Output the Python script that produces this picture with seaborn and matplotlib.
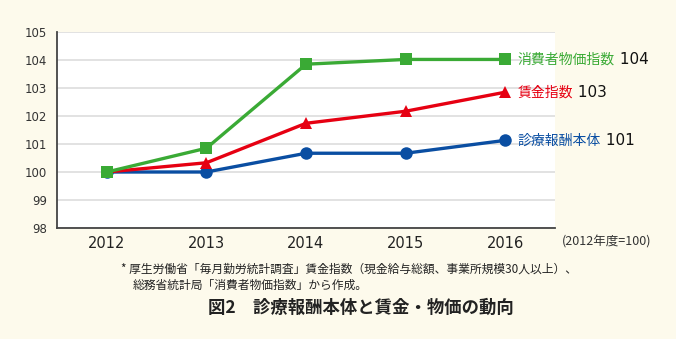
import numpy as np
import pandas as pd
import matplotlib
matplotlib.use("Agg")
import matplotlib.pyplot as plt
import seaborn as sns

years = ["2012", "2013", "2014", "2015", "2016"]
series_names = ["消費者物価指数", "賃金指数", "診療報酬本体"]
cpi = [100.0, 100.85, 103.85, 104.02, 104.02]
wage = [100.0, 100.33, 101.74, 102.17, 102.85]
fee = [100.0, 100.0, 100.67, 100.67, 101.13]
end_labels = ["104", "103", "101"]
yticks = [98, 99, 100, 101, 102, 103, 104, 105]

colors = {"消費者物価指数": "#3aaa35", "賃金指数": "#e60012", "診療報酬本体": "#0a4ea2"}
markers = {"消費者物価指数": "s", "賃金指数": "^", "診療報酬本体": "o"}

rows = []
for name, vals in zip(series_names, [cpi, wage, fee]):
    for i, (y, v) in enumerate(zip(years, vals)):
        rows.append({"pos": i, "year": y, "value": v, "series": name})
df = pd.DataFrame(rows)

sns.set_style("white")
plt.rcParams["font.family"] = ["Noto Sans CJK JP", "DejaVu Sans"]

bg = "#fdfaec"
fig = plt.figure(figsize=(6.76, 3.39), dpi=100, facecolor=bg)
ax = fig.add_axes([57/676, 1-228/339, (555-57)/676, (228-32)/339])
ax.set_facecolor("white")

# draw in order blue, red, green so green on top
order = ["診療報酬本体", "賃金指数", "消費者物価指数"]
sns.lineplot(data=df, x="pos", y="value", hue="series", style="series",
             hue_order=order, style_order=order,
             palette=colors, markers=markers, dashes=False,
             linewidth=2.4, markersize=9, markeredgewidth=0,
             legend=False, ax=ax)

ax.set_xlim(-0.5, 4.5)
ax.set_ylim(98, 105)
ax.set_yticks(yticks)
ax.set_yticklabels([str(t) for t in yticks], fontsize=8.5, color="#333333", family="DejaVu Sans")
ax.set_xticks(np.arange(-0.5, 5.0, 1.0))
ax.set_xticklabels([])
ax.set_xticks(np.arange(len(years)), minor=True)
ax.set_xticklabels(years, minor=True, fontsize=10.5, color="#222222", family="DejaVu Sans")
ax.tick_params(axis="x", which="minor", length=0, pad=6)
ax.tick_params(axis="x", which="major", length=5, width=1.2, color="#444444", direction="out")
ax.tick_params(axis="y", length=5, width=1.2, color="#444444", direction="out", pad=2)
ax.set_xlabel("")
ax.set_ylabel("")
ax.grid(axis="y", color="#dddddd", linewidth=1.2)
ax.set_axisbelow(True)
for s in ["top", "right"]:
    ax.spines[s].set_visible(False)
for s in ["left", "bottom"]:
    ax.spines[s].set_color("#444444")
    ax.spines[s].set_linewidth(1.3)

# end labels
for name, vals, lab in zip(series_names, [cpi, wage, fee], end_labels):
    t = ax.annotate(name, xy=(4, vals[-1]), xytext=(9, 0), textcoords="offset points",
                    va="center", ha="left", fontsize=10, color=colors[name],
                    annotation_clip=False)
    ax.annotate(" " + lab, xy=(1, 0.5), xycoords=t, va="center", ha="left",
                fontsize=11, color="#111111", family="DejaVu Sans", annotation_clip=False)

fig.text(562/676, 1-242/339, "(2012年度=100)", fontsize=9, color="#333333", va="center", ha="left")
fig.text(121/676, 1-269/339, "* 厚生労働省「毎月勤労統計調査」賃金指数（現金給与総額、事業所規模30人以上）、",
         fontsize=8.5, color="#222222", va="center", ha="left")
fig.text(133/676, 1-285/339, "総務省統計局「消費者物価指数」から作成。",
         fontsize=8.5, color="#222222", va="center", ha="left")
fig.text(361/676, 1-308/339, "図2　診療報酬本体と賃金・物価の動向",
         fontsize=12.5, fontweight="bold", color="#222222", va="center", ha="center")

fig.savefig("out.png", dpi=100, facecolor=bg)
